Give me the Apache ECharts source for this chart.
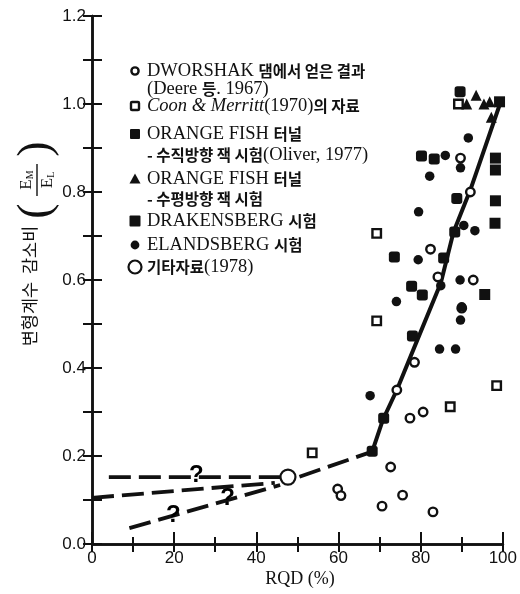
<!DOCTYPE html>
<html><head><meta charset="utf-8">
<script src="https://cdn.jsdelivr.net/npm/echarts@6/dist/echarts.min.js"></script>
<style>html,body{margin:0;padding:0;background:#fff}#c{width:520px;height:594px}</style>
</head><body><div id="c"></div>
<script>
// ---- data ----
const xAxisRange = [0, 100];
const yAxisRange = [0, 1.2];
const xTickLabels = ['0', '20', '40', '60', '80', '100'];
const yTickLabels = ['0.0', '0.2', '0.4', '0.6', '0.8', '1.0', '1.2'];

const dworshak = [[89.7,0.877],[92.1,0.80],[82.4,0.67],[84.2,0.607],[92.8,0.60],[90,0.536],[78.5,0.413],[74.2,0.35],[77.4,0.286],[80.6,0.30],[72.7,0.175],[75.6,0.111],[70.6,0.086],[83,0.073],[59.8,0.125],[60.6,0.11]];
const coonMerritt = [[53.6,0.207],[69.3,0.507],[69.3,0.706],[87.2,0.312],[98.5,0.36],[89.2,1.0]];
const orangeVertical = [[80.2,0.882],[83.3,0.875],[89.6,1.028],[88.8,0.785],[88.3,0.709],[73.6,0.652],[85.6,0.65],[77.8,0.586],[80.4,0.566],[78,0.473],[71,0.286],[68.2,0.211]];
const orangeHorizontal = [[91.2,1.0],[93.5,1.02],[95.4,1.0],[96.8,1.005],[97.2,0.97]];
const drakensberg = [[98.2,0.877],[98.2,0.85],[98.2,0.78],[98.1,0.729],[95.6,0.567],[99.2,1.005]];
const elandsberg = [[91.6,0.923],[86,0.883],[89.7,0.855],[82.2,0.836],[79.5,0.755],[90.5,0.724],[93.2,0.712],[79.4,0.646],[84.9,0.587],[89.6,0.60],[74.1,0.551],[90,0.539],[89.7,0.509],[84.6,0.443],[88.5,0.443],[67.7,0.337]];
const otherData = [[47.7,0.152]];

const solidTrend = [[68.2,0.21],[70.8,0.282],[74.2,0.35],[78.5,0.448],[84.9,0.593],[88,0.709],[92.1,0.805],[99.3,1.0]];
const dashUpper = [[4.1,0.152],[46,0.152]];
const dashMiddle = [[0,0.105],[44.5,0.139]];
const dashLower = [[9.1,0.036],[45.8,0.134]];
const dashRight = [[50.5,0.153],[68.2,0.21]];
const questionMarks = [[25.4,0.155],[19.8,0.064],[33,0.104]];

const legendLines = [
  '{t|DWORSHAK }{k|댐에서 얻은 결과}',
  '{t|(Deere }{k|등}{t|. 1967)}',
  '{i|Coon & Merritt}{t|(1970)}{k|의 자료}',
  '{t|ORANGE FISH }{k|터널}',
  '{k|- 수직방향 잭 시험}{t|(Oliver, 1977)}',
  '{t|ORANGE FISH }{k|터널}',
  '{k|- 수평방향 잭 시험}',
  '{t|DRAKENSBERG }{k|시험}',
  '{t|ELANDSBERG }{k|시험}',
  '{k|기타자료}{t|(1978)}'
];
const yTitle = '변형계수  감소비';
const xTitle = 'RQD (%)';

// ---- chart ----
const chart = echarts.init(document.getElementById('c'), null, {renderer: 'canvas'});
const BLACK = '#111';
const serif = "'Liberation Serif','Noto Sans CJK KR',serif";
const sans = "'Liberation Sans',Arial,sans-serif";
const kfont = "'Noto Sans CJK KR',sans-serif";

const legendY = [71, 89, 106, 134, 155, 179, 199, 221, 245, 267];
const legendIcons = [
  {i:0, type:'circle', r:3.6, fill:'#fff', lw:2.4},
  {i:2, type:'rect', s:8, fill:'#fff', lw:2.4},
  {i:3, type:'rect', s:10, fill:BLACK, lw:0},
  {i:5, type:'tri', s:10},
  {i:7, type:'rect', s:11, fill:BLACK, lw:0},
  {i:8, type:'circle', r:4.4, fill:BLACK, lw:0},
  {i:9, type:'circle', r:6.5, fill:'#fff', lw:2.2}
];
const graphics = [];
legendLines.forEach((txt, i) => {
  graphics.push({type:'text', x:147, y:legendY[i], z:100, style:{
    text: txt, align:'left', verticalAlign:'middle', textAlign:'left', textVerticalAlign:'middle', fill:BLACK,
    rich:{
      t:{fontFamily:serif, fontSize:18.5, fill:BLACK},
      i:{fontFamily:serif, fontSize:18.5, fontStyle:'italic', fill:BLACK},
      k:{fontFamily:kfont, fontSize:15.5, fontWeight:'bold', fill:BLACK}
    }
  }});
});
legendIcons.forEach(ic => {
  const cy = legendY[ic.i], cx = 135;
  if (ic.type === 'circle') graphics.push({type:'circle', z:100, shape:{cx, cy, r:ic.r}, style:{fill:ic.fill, stroke:BLACK, lineWidth:ic.lw}});
  else if (ic.type === 'rect') graphics.push({type:'rect', z:100, shape:{x:cx-ic.s/2, y:cy-ic.s/2, width:ic.s, height:ic.s, r:1}, style:{fill:ic.fill, stroke:BLACK, lineWidth:ic.lw}});
  else graphics.push({type:'polygon', z:100, shape:{points:[[cx,cy-5.5],[cx+5.5,cy+4.5],[cx-5.5,cy+4.5]]}, style:{fill:BLACK}});
});
// y-axis title
graphics.push({type:'text', x:29, y:286, rotation:Math.PI/2, style:{text:yTitle, fontFamily:kfont, fontSize:17.5, fill:BLACK, align:'center', verticalAlign:'middle', textAlign:'center', textVerticalAlign:'middle'}});
graphics.push({type:'group', x:37, y:180, rotation:Math.PI/2, children:[
  {type:'text', x:-31, y:0, style:{text:'(', fontFamily:serif, fontSize:46, fill:BLACK, align:'center', verticalAlign:'middle', textAlign:'center', textVerticalAlign:'middle'}},
  {type:'text', x:31, y:0, style:{text:')', fontFamily:serif, fontSize:46, fill:BLACK, align:'center', verticalAlign:'middle', textAlign:'center', textVerticalAlign:'middle'}},
  {type:'text', x:0, y:-10, style:{text:'{e|E}{s|M}', align:'center', verticalAlign:'middle', textAlign:'center', textVerticalAlign:'middle', rich:{e:{fontFamily:serif, fontSize:17, fill:BLACK}, s:{fontFamily:serif, fontSize:10, fill:BLACK, verticalAlign:'bottom'}}}},
  {type:'line', shape:{x1:-16, y1:0, x2:16, y2:0}, style:{stroke:BLACK, lineWidth:1.4}},
  {type:'text', x:0, y:11, style:{text:'{e|E}{s|L}', align:'center', verticalAlign:'middle', textAlign:'center', textVerticalAlign:'middle', rich:{e:{fontFamily:serif, fontSize:17, fill:BLACK}, s:{fontFamily:serif, fontSize:10, fill:BLACK, verticalAlign:'bottom'}}}}
]});
// x-axis title
graphics.push({type:'text', x:300, y:579, style:{text:xTitle, fontFamily:serif, fontSize:18, fill:BLACK, align:'center', verticalAlign:'middle', textAlign:'center', textVerticalAlign:'middle'}});

const axisLine = {show:true, lineStyle:{color:BLACK, width:2.5}};
const lineSeries = (data, dashed, width) => ({
  type:'line', data, symbol:'none', silent:true, z:2, animation:false,
  lineStyle:{color:BLACK, width, opacity:1, type: dashed ? [22, 8] : 'solid', cap:'butt'}
});
const scatter = (data, symbol, size, filled, bw) => ({
  type:'scatter', data, symbol, symbolSize:size, z:5, animation:false,
  itemStyle:{color: filled ? BLACK : '#fff', borderColor:BLACK, borderWidth: bw, opacity:1}
});

chart.setOption({
  animation:false,
  backgroundColor:'#fff',
  grid:{left:92, right:10, top:16, bottom:50},
  xAxis:[
    {type:'value', min:xAxisRange[0], max:xAxisRange[1], interval:20, position:'bottom',
     axisLine, axisTick:{show:true, inside:true, length:12, lineStyle:{color:BLACK, width:2}},
     minorTick:{show:true, splitNumber:2, length:7, lineStyle:{color:BLACK, width:2}},
     axisLabel:{color:BLACK, fontSize:17, fontFamily:sans, margin:6,
       formatter:(v)=>xTickLabels[Math.round(v/20)]},
     splitLine:{show:false}},
    {type:'value', min:xAxisRange[0], max:xAxisRange[1], interval:10, position:'top',
     axisLine, axisTick:{show:true, inside:true, length:8, lineStyle:{color:BLACK, width:2}},
     axisLabel:{show:false}, splitLine:{show:false}}
  ],
  yAxis:[
    {type:'value', min:yAxisRange[0], max:yAxisRange[1], interval:0.2, position:'left',
     axisLine, axisTick:{show:true, inside:true, length:10, lineStyle:{color:BLACK, width:2}},
     minorTick:{show:true, splitNumber:2, length:10, lineStyle:{color:BLACK, width:2}},
     axisLabel:{color:BLACK, fontSize:17, fontFamily:sans, margin:6,
       formatter:(v)=>yTickLabels[Math.round(v/0.2)]},
     splitLine:{show:false}},
    {type:'value', min:yAxisRange[0], max:yAxisRange[1], interval:0.1, position:'right',
     axisLine, axisTick:{show:true, inside:true, length:9, lineStyle:{color:BLACK, width:2}},
     axisLabel:{show:false}, splitLine:{show:false}}
  ],
  graphic:graphics,
  series:[
    lineSeries(solidTrend, false, 4),
    lineSeries(dashUpper, true, 3.8),
    lineSeries(dashMiddle, true, 3.8),
    lineSeries(dashLower, true, 3.8),
    lineSeries(dashRight, true, 3.8),
    {type:'custom', data:questionMarks, z:6, animation:false, silent:true,
     renderItem:(params, api) => {
       const p = api.coord([api.value(0), api.value(1)]);
       return {type:'text', x:p[0], y:p[1], style:{text:'?', fill:'#000', font:"bold 24px 'Liberation Sans', Arial, sans-serif", align:'center', verticalAlign:'middle', textAlign:'center', textVerticalAlign:'middle'}};
     }},
    scatter(dworshak, 'circle', 8.5, false, 2.4),
    scatter(coonMerritt, 'rect', 8.5, false, 2.4),
    scatter(orangeVertical, 'roundRect', 11, true, 0),
    scatter(orangeHorizontal, 'triangle', 11, true, 0),
    scatter(drakensberg, 'rect', 11, true, 0),
    scatter(elandsberg, 'circle', 9.5, true, 0),
    scatter(otherData, 'circle', 15, false, 2.2)
  ]
});
</script></body></html>
